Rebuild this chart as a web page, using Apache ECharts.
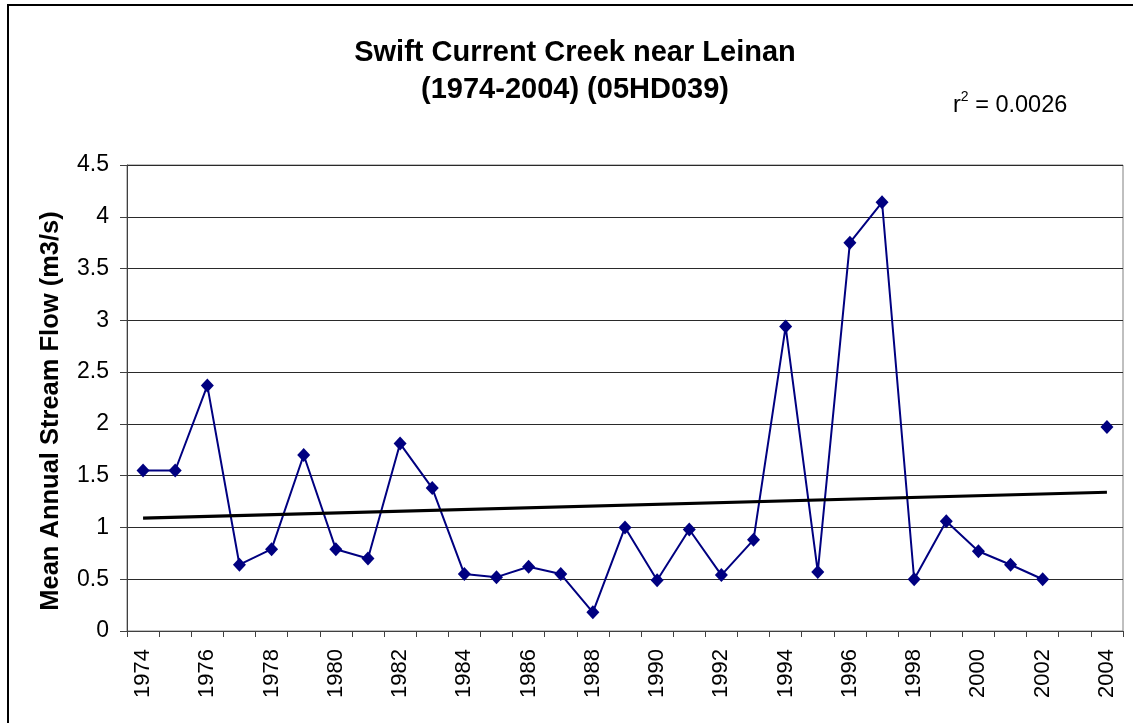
<!DOCTYPE html>
<html>
<head>
<meta charset="utf-8">
<script src="https://cdn.jsdelivr.net/npm/echarts@6/dist/echarts.min.js"></script>
<style>
  html, body { margin: 0; padding: 0; background: #fff; }
  #chart { width: 1133px; height: 723px; }
</style>
</head>
<body>
<div id="chart"></div>
<script>
// Years on the category axis (2003 has no record)
const years = ['1974','1975','1976','1977','1978','1979','1980','1981','1982','1983',
               '1984','1985','1986','1987','1988','1989','1990','1991','1992','1993',
               '1994','1995','1996','1997','1998','1999','2000','2001','2002','2003','2004'];

// Mean annual stream flow, m3/s
const flow = [1.55, 1.55, 2.37, 0.64, 0.79, 1.70, 0.79, 0.70, 1.81, 1.38,
              0.55, 0.52, 0.62, 0.55, 0.18, 1.00, 0.49, 0.98, 0.54, 0.88,
              2.94, 0.57, 3.75, 4.14, 0.50, 1.06, 0.77, 0.64, 0.50, null, 1.97];

// Linear trend end points (first and last year)
const trendYears = ['1974', '2004'];
const trendValues = [1.09, 1.34];

const titleLines = ['Swift Current Creek near Leinan', '(1974-2004) (05HD039)'];
const yAxisTitle = 'Mean Annual Stream Flow (m3/s)';
const rSquared = '0.0026';

const FONT = "'Liberation Sans', Arial, sans-serif";

const chart = echarts.init(document.getElementById('chart'), null, { renderer: 'canvas' });

chart.setOption({
  backgroundColor: '#ffffff',
  animation: false,
  grid: {
    left: 127, right: 10, top: 165, bottom: 92,
    show: true, borderColor: '#808080', borderWidth: 1, backgroundColor: 'transparent'
  },
  xAxis: {
    type: 'category',
    data: years,
    boundaryGap: true,
    axisLine: { lineStyle: { color: '#404040', width: 1 } },
    axisTick: { show: true, interval: 0, length: 6, inside: false, lineStyle: { color: '#404040' } },
    axisLabel: {
      interval: 1, rotate: 90, margin: 18,
      fontFamily: FONT, fontSize: 22, color: '#000'
    },
    splitLine: { show: false }
  },
  yAxis: {
    type: 'value',
    min: 0, max: 4.5, interval: 0.5,
    axisLine: { show: true, lineStyle: { color: '#404040', width: 1 } },
    axisTick: { show: true, length: 7, lineStyle: { color: '#404040' } },
    axisLabel: { margin: 18, fontFamily: FONT, fontSize: 23, color: '#000' },
    splitLine: { show: true, lineStyle: { color: '#2a2a2a', width: 1 } }
  },
  series: [
    {
      name: 'Flow',
      type: 'line',
      data: flow,
      connectNulls: false,
      symbol: 'diamond',
      symbolSize: [13, 14],
      itemStyle: { color: '#000080' },
      lineStyle: { color: '#000080', width: 2 },
      z: 3
    },
    {
      name: 'Trend',
      type: 'line',
      data: trendYears.map((y, i) => [y, trendValues[i]]),
      symbol: 'none',
      lineStyle: { color: '#000', width: 3.2 },
      z: 4
    }
  ],
  graphic: [
    {
      type: 'rect',
      shape: { x: 8, y: 5, width: 1140, height: 730 },
      style: { fill: 'none', stroke: '#000', lineWidth: 2 },
      silent: true
    },
    {
      type: 'text',
      x: 575, y: 34,
      style: {
        text: titleLines.join('\n'),
        font: 'bold 29px ' + FONT,
        fill: '#000',
        textAlign: 'center',
        textVerticalAlign: 'top',
        lineHeight: 37
      }
    },
    {
      type: 'text',
      x: 51, y: 411,
      rotation: Math.PI / 2,
      style: {
        text: yAxisTitle,
        font: 'bold 25.5px ' + FONT,
        fill: '#000',
        textAlign: 'center',
        textVerticalAlign: 'middle'
      }
    },
    {
      type: 'text',
      x: 953, y: 90,
      style: {
        text: '{r|r}{s|2}{r| = ' + rSquared + '}',
        fill: '#000',
        textAlign: 'left',
        textVerticalAlign: 'top',
        rich: {
          r: { fontFamily: FONT, fontSize: 23.5, fill: '#000', verticalAlign: 'bottom', lineHeight: 28 },
          s: { fontFamily: FONT, fontSize: 14, fill: '#000', verticalAlign: 'top', lineHeight: 28 }
        }
      }
    }
  ]
});
</script>
</body>
</html>
